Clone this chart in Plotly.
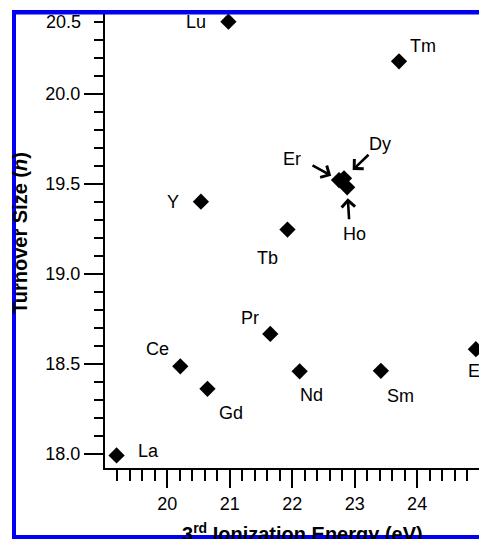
import plotly.graph_objects as go

# ---- data ----
elements = ["La", "Ce", "Pr", "Nd", "Sm", "Eu", "Gd", "Tb", "Dy", "Ho", "Er", "Tm", "Lu", "Y"]
ionization_energy = [19.19, 20.21, 21.65, 22.12, 23.42, 24.94, 20.645, 21.925, 22.83, 22.88, 22.75, 23.71, 20.98, 20.54]
turnover_size = [17.99, 18.485, 18.665, 18.457, 18.46, 18.58, 18.36, 19.245, 19.53, 19.48, 19.52, 20.18, 20.40, 19.40]
x_tick_vals = [20, 21, 22, 23, 24]
y_tick_vals = [18.0, 18.5, 19.0, 19.5, 20.0]
top_tick_label = "20.5"
x_title = "<b>3<sup>rd</sup> Ionization Energy (eV)</b>"
y_title = "<b>Turnover Size (<i>n</i>)</b>"

# ---- label placement (pixel offsets from marker centre) ----
label_offsets = {
    "La": (32, 4, "center"), "Ce": (-23, 17, "center"), "Gd": (24, -24, "center"),
    "Pr": (-20, 16, "center"), "Nd": (12, -24, "center"), "Sm": (20, -25, "center"),
    "Eu": (-10, -22, "left"), "Y": (-28, 0, "center"), "Tb": (-20, -28, "center"),
    "Lu": (-32, 0, "center"), "Tm": (24, 15, "center"), "Er": (-47, 21, "center"),
    "Dy": (36, 34, "center"), "Ho": (7, -47, "center"),
}
arrows = {"Er": (-27, -15, 9), "Dy": (25, -24, 12), "Ho": (2, 33, 11)}

W, H = 479, 539
L, R, T, B = 105, 0, 14, 71
PW, PH = W - L - R, H - T - B

def px(xp):
    return (xp - L) / PW

def py(yp):
    return (H - B - yp) / PH

FONT = "Arial, Liberation Sans, sans-serif"

fig = go.Figure()
fig.add_trace(go.Scatter(
    x=ionization_energy, y=turnover_size, mode="markers",
    marker=dict(symbol="diamond", size=12.5, color="black", line=dict(width=0)),
    cliponaxis=False, showlegend=False, hoverinfo="skip",
))

annotations = []
for el, xv, yv in zip(elements, ionization_energy, turnover_size):
    dx, dy, anc = label_offsets[el]
    annotations.append(dict(x=xv, y=yv, xref="x", yref="y", text=el, showarrow=False,
                            xshift=dx, yshift=dy, xanchor=anc, yanchor="middle",
                            font=dict(family=FONT, size=18, color="black")))
    if el in arrows:
        ax, ay, so = arrows[el]
        annotations.append(dict(x=xv, y=yv, xref="x", yref="y", text=" ", showarrow=True,
                                ax=ax, ay=ay, standoff=so, arrowhead=4, arrowsize=1.0,
                                arrowwidth=2.6, arrowcolor="black", borderpad=0,
                                font=dict(family=FONT, size=1, color="black")))

annotations.append(dict(x=0, y=20.4, xref="paper", yref="y", text=top_tick_label,
                        showarrow=False, xanchor="right", yanchor="middle", xshift=-22,
                        font=dict(family=FONT, size=18, color="black")))
annotations.append(dict(x=px(302), y=py(532), xref="paper", yref="paper", text=x_title,
                        showarrow=False, xanchor="center", yanchor="middle",
                        font=dict(family=FONT, size=20, color="black")))
annotations.append(dict(x=px(20), y=py(233), xref="paper", yref="paper", text=y_title,
                        showarrow=False, xanchor="center", yanchor="middle", textangle=-90,
                        font=dict(family=FONT, size=20, color="black")))

blue = "#0000F5"
shapes = [
    dict(type="rect", xref="paper", yref="paper", x0=px(12), x1=px(480), y0=py(14.5), y1=py(10),
         fillcolor=blue, line=dict(width=0), layer="above"),
    dict(type="rect", xref="paper", yref="paper", x0=px(12), x1=px(16), y0=py(540), y1=py(10),
         fillcolor=blue, line=dict(width=0), layer="above"),
    dict(type="rect", xref="paper", yref="paper", x0=px(12), x1=px(480), y0=py(540), y1=py(535),
         fillcolor=blue, line=dict(width=0), layer="above"),
]

fig.update_layout(
    width=W, height=H, margin=dict(l=L, r=R, t=T, b=B, pad=0),
    paper_bgcolor="white", plot_bgcolor="white",
    font=dict(family=FONT, size=18, color="black"),
    annotations=annotations, shapes=shapes,
)
fig.update_xaxes(
    range=[19.005, 24.99], tickmode="array", tickvals=x_tick_vals,
    ticks="outside", ticklen=18, tickwidth=2, tickcolor="black",
    showline=True, linewidth=2, linecolor="black", showgrid=False, zeroline=False,
    tickfont=dict(family=FONT, size=18, color="black"),
    minor=dict(tickmode="linear", tick0=19.2, dtick=0.2, ticks="outside", ticklen=11,
               tickwidth=2, tickcolor="black", showgrid=False),
)
fig.update_yaxes(
    range=[17.92, 20.443], tickmode="array", tickvals=y_tick_vals, tickformat=".1f",
    ticks="outside", ticklen=19, tickwidth=2, tickcolor="black",
    showline=True, linewidth=2, linecolor="black", showgrid=False, zeroline=False,
    tickfont=dict(family=FONT, size=18, color="black"),
    minor=dict(tickmode="linear", tick0=18.0, dtick=0.1, ticks="outside", ticklen=9,
               tickwidth=2, tickcolor="black", showgrid=False),
)

fig.write_html(
    "out.html",
    config={"displayModeBar": False},
    post_script="document.body.style.margin='0';document.body.style.padding='0';"
                "document.body.style.overflow='hidden';"
                "document.documentElement.style.overflow='hidden';",
)
